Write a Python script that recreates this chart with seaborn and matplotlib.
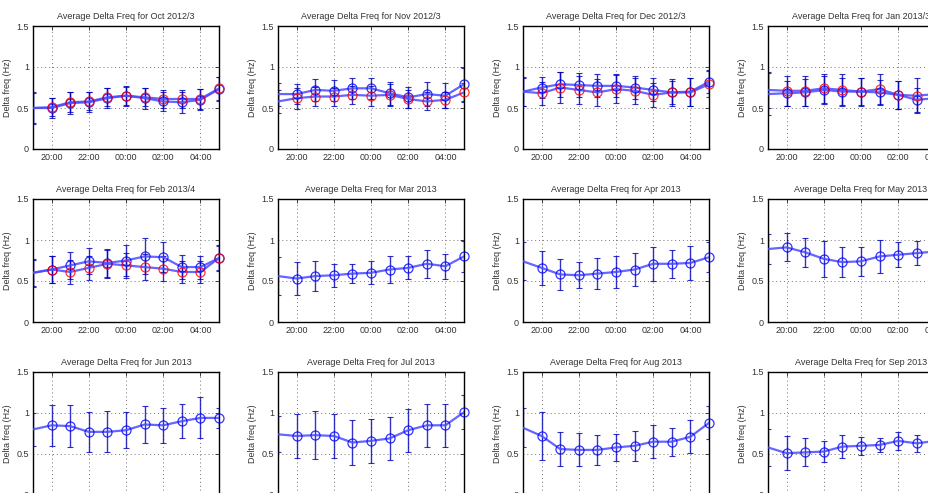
import numpy as np
import pandas as pd
import matplotlib
matplotlib.use("Agg")
import matplotlib.pyplot as plt
import seaborn as sns

sns.set_style("white")
plt.rcParams['font.family'] = ['Liberation Sans', 'DejaVu Sans']

# hourly slots from 19:00 to 05:00
hours = ['19:00', '20:00', '21:00', '22:00', '23:00', '00:00',
         '01:00', '02:00', '03:00', '04:00', '05:00']
tick_labels = ['20:00', '22:00', '00:00', '02:00', '04:00']

titles = ['Oct 2012/3', 'Nov 2012/3', 'Dec 2012/3', 'Jan 2013/3',
          'Feb 2013/4', 'Mar 2013', 'Apr 2013', 'May 2013',
          'Jun 2013', 'Jul 2013', 'Aug 2013', 'Sep 2013']

# blue series (mean, err)
oct_b = [0.50, 0.50, 0.56, 0.57, 0.62, 0.65, 0.62, 0.58, 0.57, 0.60, 0.73]
oct_b_err = [0.19, 0.12, 0.13, 0.12, 0.12, 0.12, 0.13, 0.12, 0.13, 0.13, 0.15]
nov_b = [0.67, 0.67, 0.72, 0.71, 0.74, 0.74, 0.68, 0.63, 0.67, 0.65, 0.79]
nov_b_err = [0.14, 0.12, 0.13, 0.13, 0.13, 0.13, 0.14, 0.13, 0.15, 0.15, 0.2]
dec_b = [0.70, 0.75, 0.79, 0.78, 0.77, 0.77, 0.75, 0.72, 0.69, 0.70, 0.82]
dec_b_err = [0.18, 0.13, 0.15, 0.15, 0.14, 0.14, 0.14, 0.14, 0.16, 0.17, 0.14]
jan_b = [0.67, 0.68, 0.69, 0.72, 0.70, 0.70, 0.69, 0.66, 0.60, 0.62, 0.70]
jan_b_err = [0.26, 0.15, 0.16, 0.17, 0.16, 0.16, 0.15, 0.17, 0.15, 0.15, 0.15]
feb_b = [0.60, 0.64, 0.69, 0.74, 0.72, 0.75, 0.80, 0.79, 0.67, 0.67, 0.78]
feb_b_err = [0.17, 0.17, 0.16, 0.16, 0.17, 0.19, 0.22, 0.18, 0.15, 0.14, 0.16]
mar_b = [0.56, 0.53, 0.56, 0.57, 0.59, 0.60, 0.64, 0.66, 0.71, 0.68, 0.80]
mar_b_err = [0.23, 0.20, 0.18, 0.14, 0.12, 0.14, 0.16, 0.14, 0.17, 0.15, 0.19]
apr_b = [0.74, 0.66, 0.58, 0.57, 0.59, 0.61, 0.64, 0.71, 0.71, 0.72, 0.79]
apr_b_err = [0.23, 0.21, 0.19, 0.16, 0.19, 0.19, 0.20, 0.21, 0.17, 0.21, 0.18]
may_b = [0.89, 0.91, 0.85, 0.77, 0.73, 0.74, 0.80, 0.82, 0.84, 0.86, 0.88]
may_b_err = [0.18, 0.17, 0.18, 0.22, 0.18, 0.18, 0.20, 0.15, 0.15, 0.15, 0.15]
jun_b = [0.80, 0.85, 0.84, 0.77, 0.77, 0.79, 0.86, 0.85, 0.90, 0.94, 0.94]
jun_b_err = [0.20, 0.25, 0.26, 0.24, 0.25, 0.22, 0.22, 0.21, 0.21, 0.25, 0.12]
jul_b = [0.74, 0.72, 0.73, 0.72, 0.64, 0.66, 0.69, 0.79, 0.85, 0.85, 1.01]
jul_b_err = [0.22, 0.27, 0.29, 0.27, 0.27, 0.27, 0.26, 0.26, 0.26, 0.26, 0.21]
aug_b = [0.82, 0.72, 0.56, 0.55, 0.55, 0.58, 0.60, 0.65, 0.65, 0.71, 0.88]
aug_b_err = [0.24, 0.29, 0.21, 0.20, 0.18, 0.16, 0.18, 0.20, 0.17, 0.20, 0.20]
sep_b = [0.58, 0.51, 0.52, 0.53, 0.59, 0.60, 0.61, 0.66, 0.63, 0.66, 0.65]
sep_b_err = [0.23, 0.21, 0.17, 0.13, 0.14, 0.11, 0.09, 0.11, 0.10, 0.10, 0.10]

# red series, only for the first five months
oct_r = [0.50, 0.51, 0.57, 0.58, 0.63, 0.65, 0.63, 0.61, 0.61, 0.61, 0.74]
oct_r_err = [0.18, 0.11, 0.12, 0.11, 0.11, 0.11, 0.11, 0.11, 0.11, 0.12, 0.14]
nov_r = [0.58, 0.62, 0.64, 0.64, 0.66, 0.65, 0.66, 0.61, 0.58, 0.60, 0.69]
nov_r_err = [0.14, 0.13, 0.12, 0.11, 0.11, 0.12, 0.13, 0.11, 0.11, 0.10, 0.12]
dec_r = [0.70, 0.68, 0.75, 0.72, 0.69, 0.73, 0.71, 0.66, 0.69, 0.69, 0.79]
dec_r_err = [0.17, 0.14, 0.19, 0.17, 0.16, 0.17, 0.16, 0.15, 0.14, 0.17, 0.16]
jan_r = [0.72, 0.71, 0.71, 0.74, 0.72, 0.70, 0.73, 0.66, 0.65, 0.67, 0.70]
jan_r_err = [0.22, 0.18, 0.18, 0.18, 0.19, 0.17, 0.18, 0.17, 0.21, 0.16, 0.16]
feb_r = [0.60, 0.64, 0.61, 0.66, 0.71, 0.69, 0.67, 0.65, 0.61, 0.61, 0.78]
feb_r_err = [0.16, 0.16, 0.15, 0.15, 0.17, 0.15, 0.16, 0.15, 0.14, 0.14, 0.15]

blue = [oct_b, nov_b, dec_b, jan_b, feb_b, mar_b, apr_b, may_b,
        jun_b, jul_b, aug_b, sep_b]
blue_err = [oct_b_err, nov_b_err, dec_b_err, jan_b_err, feb_b_err, mar_b_err,
            apr_b_err, may_b_err, jun_b_err, jul_b_err, aug_b_err, sep_b_err]
red = [oct_r, nov_r, dec_r, jan_r, feb_r]
red_err = [oct_r_err, nov_r_err, dec_r_err, jan_r_err, feb_r_err]

fig = plt.figure(figsize=(9.29, 4.93), dpi=100)
W, H = 929, 493
x = np.arange(len(hours))

for i, t in enumerate(titles):
    r, c = divmod(i, 4)
    left = 33 + 245 * c
    top = 26 + 173 * r
    ax = fig.add_axes([left / W, 1 - (top + 123) / H, 186 / W, 123 / H])

    series = [(blue[i], blue_err[i], 'blue')]
    if i < len(red):
        series.append((red[i], red_err[i], 'red'))

    for vals, errs, mc in series:
        df = pd.DataFrame({'slot': x, 'freq': vals})
        ax.errorbar(x, vals, yerr=errs, fmt='none', ecolor='#0000bb',
                    elinewidth=1.0, capsize=2, capthick=0.8, alpha=0.8, zorder=2)
        sns.lineplot(data=df, x='slot', y='freq', ax=ax, color='#4a4aff',
                     linewidth=1.6, alpha=0.85, zorder=3)
        # first slot sits on the left edge; its marker is not shown
        ax.plot(x, vals, linestyle='none', marker='o', markersize=6.5,
                markevery=list(range(1, len(x))), clip_on=False,
                markerfacecolor='none', markeredgecolor=mc,
                markeredgewidth=0.9, alpha=0.8, zorder=4)

    ax.set_xlim(0, 10)
    ax.set_ylim(0, 1.5)
    ax.set_xticks([1, 3, 5, 7, 9])
    ax.set_xticklabels(tick_labels)
    ax.set_yticks([0, 0.5, 1, 1.5])
    ax.set_yticklabels(['0', '0.5', '1', '1.5'])
    ax.grid(True, linestyle=(0, (1, 3)), color='0.45', linewidth=0.7)
    ax.tick_params(direction='in', length=3, width=0.6, top=True, right=True,
                   labelsize=6.5, labelcolor='#333333', pad=3)
    for s in ax.spines.values():
        s.set_color('black')
        s.set_linewidth(1.0)
    ax.set_xlabel('')
    ax.set_ylabel('Delta freq (Hz)', fontsize=6.5, color='#333333', labelpad=3)
    ax.set_title('Average Delta Freq for ' + t, fontsize=6.5, color='#333333', pad=5)

fig.savefig('out.png', dpi=100)
